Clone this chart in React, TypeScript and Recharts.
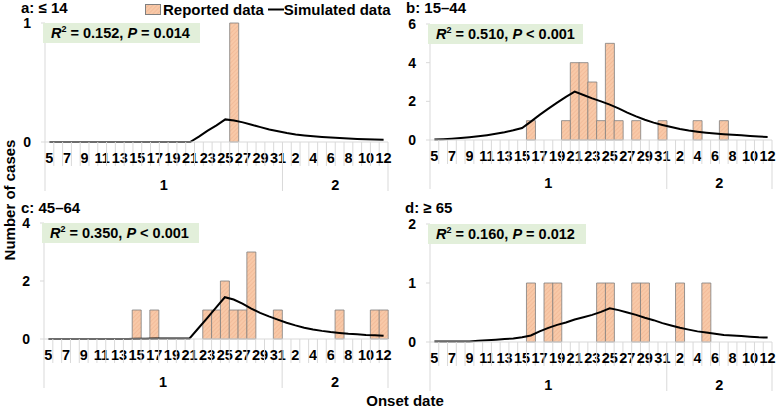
import React from 'react'
import { ComposedChart, Bar, Line, XAxis, YAxis } from 'recharts'

// onset dates: Jan 5 – Feb 12
const JAN_DAYS = [5, 6, 7, 8, 9, 10, 11, 12, 13, 14, 15, 16, 17, 18, 19, 20, 21, 22, 23, 24, 25, 26, 27, 28, 29, 30, 31]
const FEB_DAYS = [1, 2, 3, 4, 5, 6, 7, 8, 9, 10, 11, 12]
const MONTHS = ['1', '2']

const REPORTED_A = [0, 0, 0, 0, 0, 0, 0, 0, 0, 0, 0, 0, 0, 0, 0, 0, 0, 0, 0, 0, 0, 1, 0, 0, 0, 0, 0, 0, 0, 0, 0, 0, 0, 0, 0, 0, 0, 0, 0]
const SIMULATED_A = [0, 0, 0, 0, 0, 0, 0, 0, 0, 0, 0, 0, 0, 0, 0, 0, 0, 0.045, 0.095, 0.14, 0.19, 0.18, 0.165, 0.145, 0.125, 0.105, 0.09, 0.075, 0.063, 0.055, 0.048, 0.042, 0.037, 0.033, 0.029, 0.026, 0.023, 0.021, 0.019]

const REPORTED_B = [0, 0, 0, 0, 0, 0, 0, 0, 0, 0, 0, 1, 0, 0, 0, 1, 4, 4, 3, 1, 5, 1, 0, 1, 0, 0, 1, 0, 0, 0, 1, 0, 0, 1, 0, 0, 0, 0, 0]
const SIMULATED_B = [0.02, 0.04, 0.07, 0.1, 0.14, 0.19, 0.25, 0.32, 0.4, 0.5, 0.62, 0.95, 1.3, 1.62, 1.93, 2.23, 2.5, 2.33, 2.15, 2.0, 1.83, 1.64, 1.42, 1.22, 1.05, 0.9, 0.78, 0.67, 0.57, 0.49, 0.43, 0.38, 0.34, 0.3, 0.27, 0.24, 0.21, 0.18, 0.16]

const REPORTED_C = [0, 0, 0, 0, 0, 0, 0, 0, 0, 0, 1, 0, 1, 0, 0, 0, 0, 0, 1, 1, 2, 1, 1, 3, 0, 0, 1, 0, 0, 0, 0, 0, 0, 1, 0, 0, 0, 1, 1]
const SIMULATED_C = [0, 0, 0, 0, 0, 0, 0, 0, 0, 0, 0.01, 0.01, 0.02, 0.02, 0.02, 0.02, 0.02, 0.37, 0.72, 1.08, 1.44, 1.36, 1.22, 1.05, 0.9, 0.78, 0.67, 0.56, 0.47, 0.39, 0.33, 0.28, 0.24, 0.21, 0.18, 0.16, 0.14, 0.13, 0.11]

const REPORTED_D = [0, 0, 0, 0, 0, 0, 0, 0, 0, 0, 0, 1, 0, 1, 1, 0, 0, 0, 0, 1, 1, 0, 0, 1, 1, 0, 0, 0, 1, 0, 0, 1, 0, 0, 0, 0, 0, 0, 0]
const SIMULATED_D = [0.01, 0.01, 0.01, 0.01, 0.01, 0.02, 0.03, 0.04, 0.05, 0.06, 0.08, 0.11, 0.18, 0.24, 0.29, 0.33, 0.38, 0.42, 0.46, 0.51, 0.57, 0.54, 0.5, 0.46, 0.41, 0.37, 0.32, 0.28, 0.24, 0.21, 0.18, 0.16, 0.14, 0.12, 0.11, 0.1, 0.09, 0.08, 0.075]

const FONT = "Arial, 'Liberation Sans', sans-serif"
const GRID = '#d9d9d9'
const TICK_FONT = 14.5

const categories = [
  ...JAN_DAYS.map(d => ({ key: `1-${d}`, label: String(d), month: MONTHS[0] })),
  ...FEB_DAYS.map(d => ({ key: `2-${d}`, label: String(d), month: MONTHS[1] })),
]
const N = categories.length

// first index of each month, and where its label sits
const monthStarts = MONTHS.map(m => categories.findIndex(c => c.month === m))
const monthMids = MONTHS.map((m, i) => {
  const s = monthStarts[i]
  const e = i + 1 < MONTHS.length ? monthStarts[i + 1] - 1 : N - 1
  return (s + e) / 2
})

function DateTick(props: any) {
  const { x, y, index, bw } = props
  const c = categories[index]
  const long = index === 0 || monthStarts.includes(index)
  const mi = monthMids.findIndex(m => Math.floor(m) === index)
  const txt = { fontFamily: FONT, fontSize: TICK_FONT, fontWeight: 'bold', fill: '#000' }
  return (
    <g>
      <line x1={x - bw / 2} x2={x - bw / 2} y1={y} y2={y + (long ? 49 : 24)} stroke={GRID} />
      {index === N - 1 && <line x1={x + bw / 2} x2={x + bw / 2} y1={y} y2={y + 49} stroke={GRID} />}
      {index % 2 === 0 && (
        <text x={x} y={y + 21} textAnchor="middle" {...txt}>{c.label}</text>
      )}
      {mi >= 0 && (
        <text x={x + (monthMids[mi] - index) * bw} y={y + 48} textAnchor="middle" {...txt}>{MONTHS[mi]}</text>
      )}
    </g>
  )
}

interface PanelProps {
  title: string
  stat: React.ReactNode
  reported: number[]
  simulated: number[]
  ticks: number[]
  left: number
  top: number
  width: number
  yW: number
  mT: number
  mR: number
  axisY: number
  titleX: number
  boxW: number
}

const H = 200

function Panel(p: PanelProps) {
  const data = categories.map((c, i) => ({ key: c.key, reported: p.reported[i], simulated: p.simulated[i] }))
  const plotW = p.width - p.yW - p.mR
  const bw = plotW / N
  return (
    <div style={{ position: 'absolute', left: p.left, top: p.top, width: p.width, height: H }}>
      <ComposedChart width={p.width} height={H} data={data} margin={{ top: p.mT, right: p.mR, left: 0, bottom: 0 }}
        barCategoryGap={0}>
        <XAxis
          dataKey="key"
          interval={0}
          height={H - p.axisY}
          axisLine={{ stroke: GRID }}
          tickLine={false}
          tickSize={0}
          tickMargin={0}
          tick={(t: any) => <DateTick {...t} bw={bw} />}
        />
        <YAxis
          width={p.yW}
          domain={[0, p.ticks[p.ticks.length - 1]]}
          ticks={p.ticks}
          interval={0}
          axisLine={{ stroke: GRID }}
          tickLine={{ stroke: GRID }}
          tickSize={4}
          tickMargin={10}
          tick={{ fontFamily: FONT, fontSize: 14, fontWeight: 'bold', fill: '#000' }}
        />
        <Bar dataKey="reported" fill="url(#hatch)" stroke="#7f7f7f" strokeWidth={0.8} isAnimationActive={false} />
        <Line dataKey="simulated" type="linear" stroke="#000" strokeWidth={2} dot={false} activeDot={false} isAnimationActive={false} />
      </ComposedChart>
      <div style={{
        position: 'absolute', left: p.yW - 2, top: p.mT, width: p.boxW, height: 20,
        background: '#e2efda', fontFamily: FONT, fontSize: 14.5, fontWeight: 700,
        lineHeight: '20px', paddingLeft: 8, boxSizing: 'border-box', whiteSpace: 'nowrap',
      }}>
        {p.stat}
      </div>
      <div style={{ position: 'absolute', left: p.titleX, top: -1, fontFamily: FONT, fontSize: 15, fontWeight: 700, lineHeight: '17px', whiteSpace: 'nowrap' }}>
        {p.title}
      </div>
    </div>
  )
}

const Stat = ({ r2, pv }: { r2: string; pv: string }) => (
  <span>
    <i>R</i><span style={{ fontSize: 9, verticalAlign: 'super', lineHeight: 0 }}>2</span> = {r2}, <i>P</i> {pv}
  </span>
)

export default function App() {
  return (
    <div style={{ position: 'absolute', left: 0, top: 0, width: 778, height: 408, background: '#fff', fontFamily: FONT }}>
      <svg width={0} height={0} style={{ position: 'absolute' }}>
        <defs>
          <pattern id="hatch" patternUnits="userSpaceOnUse" width={3} height={3} patternTransform="rotate(45)">
            <rect width={3} height={3} fill="#f8c9a8" />
            <line x1={0} y1={0} x2={0} y2={3} stroke="#efb08c" strokeWidth={1} />
          </pattern>
        </defs>
      </svg>

      <Panel title="a: ≤ 14" stat={<Stat r2="0.152" pv="= 0.014" />} reported={REPORTED_A} simulated={SIMULATED_A}
        ticks={[0, 1]} left={0} top={0} width={400} yW={45} mT={23} mR={12} axisY={142} titleX={21} boxW={157} />
      <Panel title="c: 45–64" stat={<Stat r2="0.350" pv="< 0.001" />} reported={REPORTED_C} simulated={SIMULATED_C}
        ticks={[0, 2, 4]} left={0} top={200} width={400} yW={44} mT={23} mR={12} axisY={139} titleX={21} boxW={157} />
      <Panel title="b: 15–44" stat={<Stat r2="0.510" pv="< 0.001" />} reported={REPORTED_B} simulated={SIMULATED_B}
        ticks={[0, 2, 4, 6]} left={389} top={0} width={389} yW={41} mT={24} mR={6} axisY={140} titleX={17} boxW={155} />
      <Panel title="d: ≥ 65" stat={<Stat r2="0.160" pv="= 0.012" />} reported={REPORTED_D} simulated={SIMULATED_D}
        ticks={[0, 1, 2]} left={389} top={200} width={389} yW={41} mT={24} mR={6} axisY={142} titleX={16} boxW={158} />

      {/* legend */}
      <div style={{ position: 'absolute', left: 145, top: 0, height: 18, display: 'flex', alignItems: 'center', fontSize: 15, fontWeight: 700, whiteSpace: 'nowrap' }}>
        <svg width={17} height={11} style={{ marginRight: 1 }}>
          <rect x={0.5} y={0.5} width={15} height={10} fill="url(#hatch)" stroke="#7f7f7f" />
        </svg>
        <span>Reported data</span>
        <svg width={16} height={11} style={{ marginLeft: 4 }}>
          <line x1={0} x2={16} y1={5.5} y2={5.5} stroke="#000" strokeWidth={2} />
        </svg>
        <span>Simulated data</span>
      </div>

      <div style={{
        position: 'absolute', left: 9, top: 200, transform: 'translate(-50%, -50%) rotate(-90deg)',
        fontSize: 15, fontWeight: 700, whiteSpace: 'nowrap',
      }}>Number of cases</div>
      <div style={{
        position: 'absolute', left: 405, top: 400, transform: 'translate(-50%, -50%)',
        fontSize: 15, fontWeight: 700, whiteSpace: 'nowrap',
      }}>Onset date</div>
    </div>
  )
}
